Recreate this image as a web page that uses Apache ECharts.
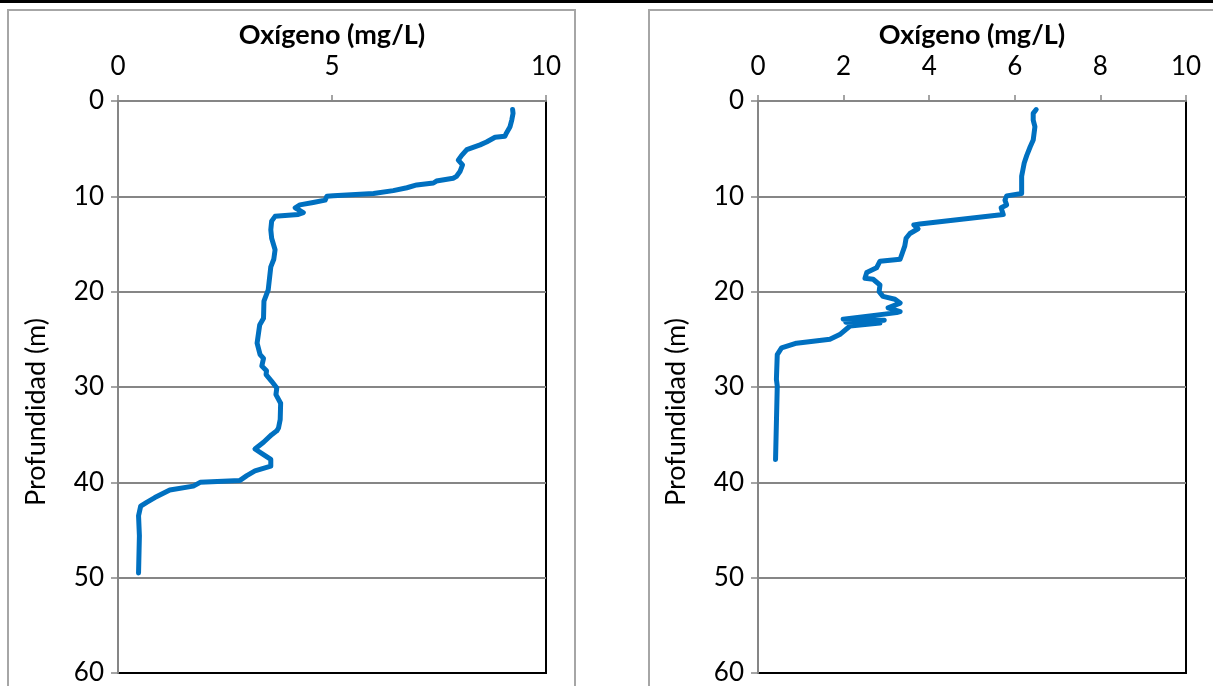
<!DOCTYPE html>
<html>
<head>
<meta charset="utf-8">
<script src="https://cdn.jsdelivr.net/npm/echarts@6/dist/echarts.min.js"></script>
<style>
html,body{margin:0;padding:0;background:#fff;}
#c{width:1213px;height:686px;}
</style>
</head>
<body>
<div id="c"></div>
<script>
const axisTitle = 'Oxígeno (mg/L)';
const depthTitle = 'Profundidad (m)';
const depthTicks = [0, 10, 20, 30, 40, 50, 60];

const leftOxy = [9.22,9.23,9.20,9.16,9.07,9.04,8.81,8.61,8.46,8.15,8.03,7.95,8.05,7.99,7.91,7.83,7.44,7.37,6.98,6.75,6.43,5.97,5.03,4.88,4.84,4.56,4.25,4.14,4.33,4.21,3.67,3.59,3.57,3.59,3.67,3.64,3.57,3.51,3.41,3.40,3.31,3.25,3.32,3.40,3.36,3.47,3.46,3.59,3.71,3.69,3.80,3.79,3.75,3.71,3.59,3.40,3.20,3.40,3.57,3.57,3.20,3.01,2.85,1.92,1.76,1.21,0.86,0.67,0.53,0.48,0.50,0.48];
const leftDepth = [0.9,1.3,2.0,2.7,3.4,3.7,3.8,4.3,4.6,5.1,5.7,6.2,6.7,7.4,7.9,8.1,8.4,8.6,8.8,9.1,9.4,9.7,9.95,10.0,10.4,10.65,10.9,11.2,11.7,11.9,12.1,12.6,13.5,14.4,15.6,16.6,17.4,19.8,21.0,22.8,23.5,25.4,26.6,27.0,27.8,28.3,28.7,29.4,30.1,30.8,31.7,33.4,34.3,34.6,35.0,35.8,36.5,37.1,37.6,38.3,38.8,39.3,39.8,40.0,40.4,40.8,41.6,42.1,42.5,43.5,45.6,49.5];

const rightOxy = [6.50,6.43,6.43,6.47,6.43,6.36,6.28,6.22,6.19,6.16,6.16,5.81,5.77,5.81,5.68,5.73,3.78,3.64,3.74,3.55,3.46,3.43,3.36,3.32,2.85,2.77,2.54,2.50,2.69,2.85,2.83,2.92,3.20,3.32,3.04,3.32,3.24,1.99,2.95,2.05,2.85,2.15,1.91,1.68,0.90,0.55,0.45,0.43,0.45,0.41];
const rightDepth = [0.9,1.3,2.0,2.7,4.1,4.8,5.7,6.5,7.2,7.9,9.7,9.95,10.4,10.9,11.2,11.9,12.9,13.0,13.4,13.9,14.4,15.2,16.1,16.6,16.8,17.5,18.0,18.6,18.7,19.3,20.0,20.5,20.8,21.2,21.7,22.1,22.2,22.9,23.0,23.2,23.3,23.6,24.5,25.0,25.4,25.9,26.6,29.2,29.9,37.6];

const panels = [
  {oxy: leftOxy, depth: leftDepth, interval: 5},
  {oxy: rightOxy, depth: rightDepth, interval: 2}
];

const gridLefts = [118, 758];
const FONT = 'Lato';
const gray = '#868686';

const chart = echarts.init(document.getElementById('c'), null, {renderer: 'canvas'});

const grids = [], xAxes = [], yAxes = [], series = [];
panels.forEach((p, i) => {
  grids.push({left: gridLefts[i], top: 101, width: 428, height: 573,
    show: true, borderColor: '#000', borderWidth: 2, backgroundColor: 'transparent'});
  xAxes.push({
    type: 'value', gridIndex: i, position: 'top', min: 0, max: 10, interval: p.interval,
    name: axisTitle, nameLocation: 'middle', nameGap: 52,
    nameTextStyle: {fontFamily: FONT, fontSize: 27, fontWeight: 'bold', color: '#000'},
    axisLine: {show: true, onZero: false, lineStyle: {color: gray, width: 2}},
    axisTick: {show: true, length: 6, lineStyle: {color: gray, width: 1.5}},
    axisLabel: {fontFamily: FONT, fontSize: 26, color: '#000', margin: 21},
    splitLine: {show: false}
  });
  yAxes.push({
    type: 'value', gridIndex: i, inverse: true, min: depthTicks[0], max: depthTicks[depthTicks.length-1], interval: 10,
    name: depthTitle, nameLocation: 'middle', nameGap: 68, nameRotate: 90,
    nameTextStyle: {fontFamily: FONT, fontSize: 27, color: '#000', padding: [0, 50, 0, 0]},
    axisLine: {show: true, onZero: false, lineStyle: {color: gray, width: 2}},
    axisTick: {show: true, length: 7, lineStyle: {color: gray, width: 1.5}},
    axisLabel: {fontFamily: FONT, fontSize: 26, color: '#000', margin: 14},
    splitLine: {show: true, showMinLine: false, showMaxLine: false, lineStyle: {color: gray, width: 2}}
  });
  series.push({
    type: 'line', xAxisIndex: i, yAxisIndex: i,
    data: p.oxy.map((v, k) => [v, p.depth[k]]),
    showSymbol: false, symbol: 'none', smooth: false,
    lineStyle: {color: '#0070C0', width: 5, cap: 'round', join: 'round'},
    z: 5, animation: false
  });
});

chart.setOption({
  animation: false,
  backgroundColor: '#fff',
  grid: grids, xAxis: xAxes, yAxis: yAxes, series: series,
  graphic: [
    {type: 'rect', shape: {x: 0, y: 0, width: 1213, height: 3}, style: {fill: '#000'}, z: 10},
    {type: 'rect', shape: {x: 8, y: 10, width: 567, height: 700}, style: {fill: 'none', stroke: '#a6a6a6', lineWidth: 2}, z: -1},
    {type: 'rect', shape: {x: 649, y: 10, width: 600, height: 700}, style: {fill: 'none', stroke: '#a6a6a6', lineWidth: 2}, z: -1}
  ]
});
</script>
</body>
</html>
